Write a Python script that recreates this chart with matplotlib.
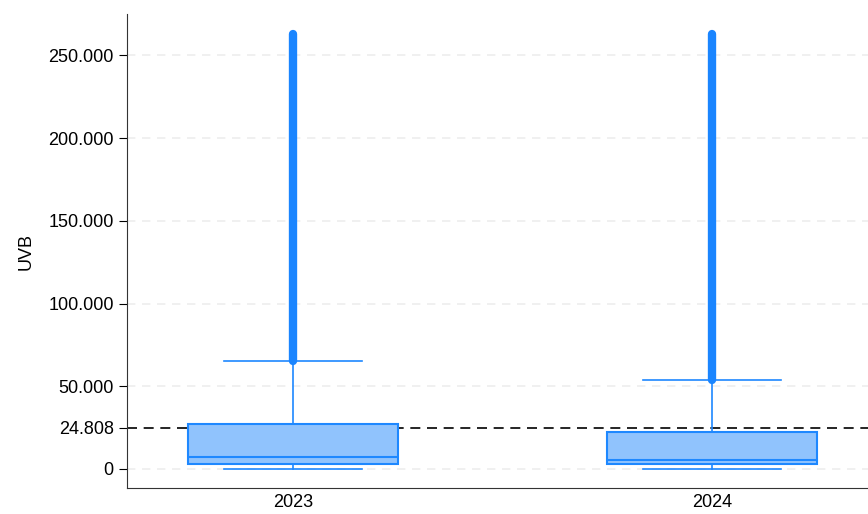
import matplotlib
matplotlib.use("Agg")
import matplotlib.pyplot as plt
from matplotlib.ticker import FuncFormatter

plt.rcParams['font.family'] = ['Liberation Sans', 'DejaVu Sans']

years = ['2023', '2024']
q1 = [3000, 3000]
med = [7400, 5400]
q3 = [27200, 22500]
whislo = [0, 0]
whishi = [65200, 53700]
# outliers form a continuous column from just above the whisker to the max
flier_lo = [65500, 54000]
flier_hi = [263000, 263000]
ref_value = 24808
yticks = [0, ref_value, 50000, 100000, 150000, 200000, 250000]

edge = '#1e88ff'
fill = '#90c3fd'

fig = plt.figure(figsize=(8.68, 5.14), dpi=100)
ax = fig.add_axes([127 / 868, 26 / 514, 741 / 868, 474 / 514])

stats = []
for i, y in enumerate(years):
    stats.append(dict(label=y, q1=q1[i], med=med[i], q3=q3[i],
                      whislo=whislo[i], whishi=whishi[i], fliers=[]))

pos = list(range(len(years)))
ax.bxp(stats, positions=pos, widths=0.5, patch_artist=True, showfliers=False,
       boxprops=dict(facecolor=fill, edgecolor=edge, linewidth=1.5),
       medianprops=dict(color=edge, linewidth=1.5),
       whiskerprops=dict(color=edge, linewidth=1.2),
       capprops=dict(color=edge, linewidth=1.2),
       capwidths=0.33, zorder=3)

ax.vlines(pos, flier_lo, flier_hi, color='#1a85ff', linewidth=6,
          capstyle='round', zorder=4)

ax.axhline(ref_value, color='black', linestyle=(0, (6, 4)), linewidth=1.2, zorder=2)

for t in yticks:
    if t != ref_value:
        ax.axhline(t, color='#ededed', linestyle=(0, (5, 4)), linewidth=1.2, zorder=1)

ax.set_xlim(-0.396, 1.372)
ax.set_ylim(-11500, 275000)
ax.set_yticks(yticks)
ax.yaxis.set_major_formatter(FuncFormatter(lambda v, p: f'{int(v):,}'.replace(',', '.')))
ax.set_xticks(pos)
ax.set_xticklabels(years)
ax.tick_params(axis='y', length=6, labelsize=13)
ax.tick_params(axis='x', length=0, labelsize=13, pad=4)
ax.set_ylabel('UVB', fontsize=13, labelpad=10)

for s in ['top', 'right']:
    ax.spines[s].set_visible(False)
ax.spines['left'].set_color('#333333')
ax.spines['bottom'].set_color('#333333')

fig.savefig('out.png', dpi=100)
